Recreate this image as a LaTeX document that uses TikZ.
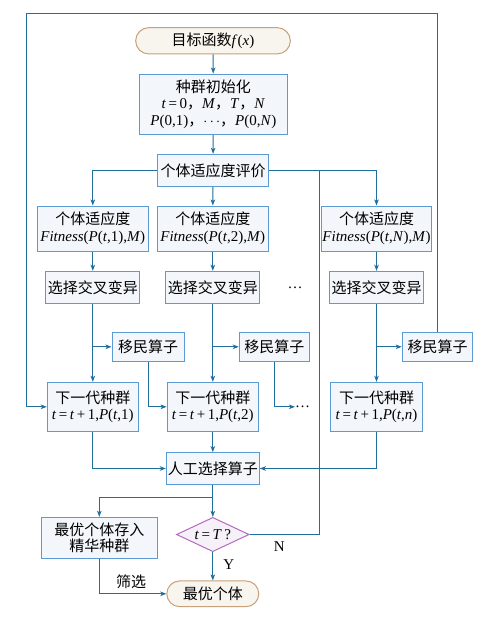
\documentclass[tikz,border=0pt]{standalone}
\usepackage{fontspec}
\setmainfont{Liberation Serif}
\newfontfamily\cjk{Noto Sans CJK SC}
\usetikzlibrary{arrows.meta,shapes.misc,shapes.geometric}
\definecolor{linec}{HTML}{1F6E9C}
\definecolor{boxc}{HTML}{5B9BD5}
\definecolor{boxf}{HTML}{F3F7FB}
\definecolor{termc}{HTML}{C8A07A}
\definecolor{termf}{HTML}{F8F4EE}
\definecolor{diac}{HTML}{B36BC0}
\definecolor{diaf}{HTML}{F6F0F8}
\tikzset{
  txt/.style={font=\fontsize{15}{16.7}\selectfont, align=center, inner sep=0pt},
  box/.style={txt, draw=boxc, fill=boxf, line width=1pt, rectangle},
  term/.style={txt, draw=termc, fill=termf, line width=1pt, rounded rectangle},
  dec/.style={txt, draw=diac, fill=diaf, line width=1pt, diamond, aspect=2.1},
  conn/.style={draw=linec, line width=1pt},
  arr/.style={conn, -{Stealth[length=6pt,width=4.5pt,inset=1.5pt]}},
}
\begin{document}
\begin{tikzpicture}[x=1pt,y=-1pt]
\useasboundingbox (0,0) rectangle (484,623);
% nodes
\node[term, minimum width=154.7pt, minimum height=26.3pt] (start) at (213,40.8) {{\cjk 目标函数}\textit{f}(\textit{x})};
\node[box, minimum width=147.7pt, minimum height=60.3pt] (init) at (213.4,104.2)
  {{\cjk 种群初始化}\\ \textit{t}\,=\,0{\cjk ，}\textit{M}{\cjk ，}\textit{T}{\cjk ，}\textit{N}\\ \textit{P}(0,1){\cjk ，}$\cdots${\cjk ，}\textit{P}(0,\textit{N})};
\node[box, minimum width=111.3pt, minimum height=32pt] (eval) at (213,170.3) {\cjk 个体适应度评价};

\node[box, minimum width=111pt, minimum height=45pt] (fit1) at (92.8,228.5)
  {{\cjk 个体适应度}\\ \textit{Fitness}(\textit{P}(\textit{t},1),\textit{M})};
\node[box, minimum width=111pt, minimum height=45pt] (fit2) at (212.8,228.5)
  {{\cjk 个体适应度}\\ \textit{Fitness}(\textit{P}(\textit{t},2),\textit{M})};
\node[box, minimum width=110.4pt, minimum height=45pt] (fit3) at (376.5,228.5)
  {{\cjk 个体适应度}\\ \textit{Fitness}(\textit{P}(\textit{t},\textit{N}),\textit{M})};

\node[box, minimum width=94pt, minimum height=32pt] (sel1) at (92.8,287.3) {\cjk 选择交叉变异};
\node[box, minimum width=94pt, minimum height=32pt] (sel2) at (212.8,287.3) {\cjk 选择交叉变异};
\node[box, minimum width=94pt, minimum height=32pt] (sel3) at (376.5,287.3) {\cjk 选择交叉变异};
\node[txt] (dots1) at (295,287.5) {\ldots};

\node[box, minimum width=72pt, minimum height=29pt] (mig1) at (148,346.8) {\cjk 移民算子};
\node[box, minimum width=70pt, minimum height=29pt] (mig2) at (274.3,346.8) {\cjk 移民算子};
\node[box, minimum width=70.7pt, minimum height=29pt] (mig3) at (437.6,346.8) {\cjk 移民算子};

\node[box, minimum width=91pt, minimum height=49pt] (next1) at (92.8,406.8)
  {{\cjk 下一代种群}\\ \textit{t}\,=\,\textit{t}\,+\,1,\textit{P}(\textit{t},1)};
\node[box, minimum width=91.3pt, minimum height=49pt] (next2) at (212.8,406.8)
  {{\cjk 下一代种群}\\ \textit{t}\,=\,\textit{t}\,+\,1,\textit{P}(\textit{t},2)};
\node[box, minimum width=92pt, minimum height=49pt] (next3) at (376.5,406.8)
  {{\cjk 下一代种群}\\ \textit{t}\,=\,\textit{t}\,+\,1,\textit{P}(\textit{t},\textit{n})};
\node[txt, anchor=west] (dots2) at (295,406.8) {\ldots};

\node[box, minimum width=93pt, minimum height=31.7pt] (art) at (212.8,468.5) {\cjk 人工选择算子};
\node[box, minimum width=116pt, minimum height=41pt] (elite) at (99.3,537.8) {{\cjk 最优个体存入}\\ {\cjk 精华种群}};
\node[dec, minimum width=72.7pt, minimum height=34.3pt] (dia) at (212.8,534.5) {\textit{t}\,=\,\textit{T}\,?};
\node[term, minimum width=92pt, minimum height=25.7pt] (final) at (212.8,593.8) {\cjk 最优个体};

\node[txt] (lN) at (279.3,546.7) {N};
\node[txt] (lY) at (228.7,564.3) {Y};
\node[txt] (lsx) at (131,581.7) {\cjk 筛选};

% coordinates
\coordinate (j) at (319,170.3);
\coordinate (tr) at (437.6,13.3);
\coordinate (tl) at (26.7,13.3);

% connectors
\draw[arr] (start) -- (init);
\draw[arr] (init) -- (eval);
\draw[arr] (eval.west) -| (fit1.north);
\draw[arr] (eval.south) -- (fit2.north);
\draw[arr] (eval.east) -| (fit3.north);
\draw[arr] (fit1) -- (sel1);
\draw[arr] (fit2) -- (sel2);
\draw[arr] (fit3) -- (sel3);
\draw[arr] (sel1) -- (next1);
\draw[arr] (sel2) -- (next2);
\draw[arr] (sel3) -- (next3);
\draw[arr] (mig1.west -| sel1.south) -- (mig1.west);
\draw[arr] (mig2.west -| sel2.south) -- (mig2.west);
\draw[arr] (mig3.west -| sel3.south) -- (mig3.west);
\draw[arr] (mig1.south) |- (next2.west);
\draw[arr] (mig2.south) |- (dots2.west);
\draw[arr] (mig3.north) -- (tr) -- (tl) |- (next1.west);
\draw[arr] (next1.south) |- (art.west);
\draw[arr] (next2.south) -- (art.north);
\draw[arr] (next3.south) |- (art.east);
\draw[arr] (art.south) -- (dia.north);
\draw[arr] (art.south) -- ++(0,13) -| (elite.north);
\draw[conn] (dia.east) -| (j);
\draw[arr] (dia.south) -- (final.north);
\draw[arr] (elite.south) |- (final.west);
\end{tikzpicture}
\end{document}
